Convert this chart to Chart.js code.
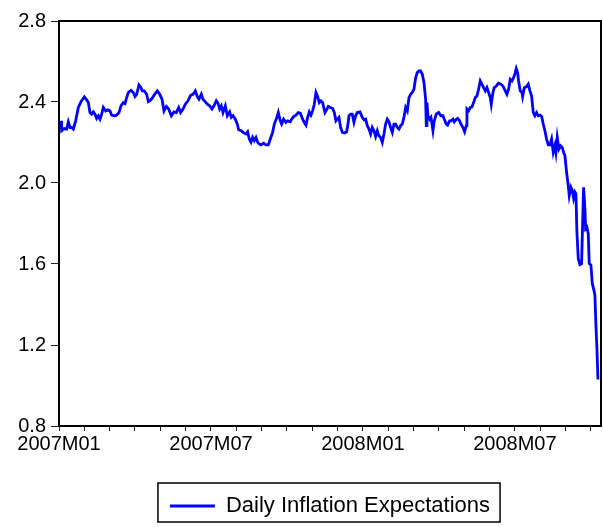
<!DOCTYPE html>
<html><head><meta charset="utf-8">
<script src="https://cdn.jsdelivr.net/npm/chart.js@4.4.0/dist/chart.umd.min.js"></script>
<style>html,body{margin:0;padding:0;background:#fff;}canvas{display:block;}</style>
</head><body>
<canvas id="c" width="603" height="527"></canvas>
<script>
// x position of each observation, in months since 2007M01
const obsMonth = [
0.079,0.105,0.210,0.303,0.368,0.434,0.500,0.566,0.658,0.763,0.868,1.000,1.092,1.158,1.224,1.289,1.355,1.421,1.487,1.553,1.618,1.684,1.750,1.842,1.921,2.013,2.079,2.184,2.276,2.368,2.447,2.539,2.605,2.671,2.737,2.842,2.934,3.000,3.066,3.158,3.237,3.289,3.368,3.461,3.526,
3.580,3.672,3.777,3.882,3.975,4.067,4.146,4.238,4.330,4.435,4.540,4.632,4.725,4.803,4.896,4.988,5.093,5.198,5.290,5.382,5.461,5.527,5.619,5.685,5.777,5.856,5.948,6.040,6.119,6.211,6.277,6.343,6.409,6.475,6.567,6.646,6.738,6.803,6.869,6.961,7.040,7.093,7.198,7.264,
7.382,7.448,7.514,7.580,7.645,7.711,7.777,7.843,7.909,7.974,8.080,8.172,8.264,8.343,8.435,8.501,8.606,8.659,8.738,8.790,8.869,8.961,9.027,9.132,9.185,9.264,9.356,9.448,9.527,9.619,9.685,9.751,9.817,9.882,9.948,10.014,10.080,10.146,10.211,10.277,10.343,10.409,10.501,10.580,10.632,10.711,10.804,10.869,10.935,
10.989,11.054,11.120,11.186,11.278,11.357,11.410,11.449,11.515,11.581,11.646,11.712,11.778,11.883,11.975,12.041,12.107,12.173,12.239,12.304,12.370,12.436,12.502,12.568,12.633,12.699,12.765,12.831,12.896,12.962,13.028,13.094,13.160,13.225,13.291,13.357,13.423,13.489,13.554,13.620,13.686,13.752,13.818,13.883,13.949,14.015,14.081,14.146,14.212,14.278,14.344,14.410,14.475,14.502,
14.528,14.567,14.633,14.686,14.765,14.817,14.896,14.989,15.081,15.160,15.212,15.291,15.344,15.423,15.475,15.554,15.607,15.686,15.738,15.817,15.870,15.949,16.015,16.081,16.107,16.173,16.239,16.304,16.370,16.436,16.502,16.567,16.633,16.699,16.765,16.831,16.896,16.962,17.028,17.067,17.133,17.186,17.265,17.357,17.449,17.528,17.620,17.686,17.752,17.817,17.883,17.949,18.015,18.054,18.107,18.147,18.212,18.278,
18.305,18.370,18.463,18.528,18.594,18.660,18.726,18.791,18.857,18.923,18.989,19.055,19.120,19.186,19.252,19.318,19.384,19.449,19.515,19.581,19.620,19.673,19.739,19.805,19.870,19.923,19.976,20.041,20.107,20.147,20.213,20.265,20.318,20.370,20.410,20.449,20.502,20.568,20.634,20.673,20.713,20.765,20.792,20.844,20.897,20.936,21.002,21.055,21.120,21.160,21.199,21.239,21.278,21.331
];
// Daily inflation expectations
const inflation = [
2.307,2.258,2.269,2.266,2.302,2.274,2.274,2.266,2.307,2.373,2.401,2.425,2.411,2.397,2.348,2.340,2.351,2.340,2.319,2.332,2.315,2.340,2.373,2.356,2.361,2.356,2.335,2.332,2.335,2.348,2.381,2.397,2.392,2.422,2.447,2.458,2.447,2.427,2.438,2.484,2.471,2.455,2.455,2.438,2.402,
2.406,2.417,2.438,2.455,2.438,2.414,2.356,2.378,2.365,2.332,2.351,2.348,2.373,2.348,2.365,2.389,2.406,2.433,2.438,2.455,2.427,2.414,2.438,2.414,2.401,2.389,2.381,2.365,2.381,2.406,2.394,2.365,2.381,2.348,2.381,2.332,2.351,2.324,2.332,2.315,2.291,2.263,2.258,2.250,
2.242,2.253,2.217,2.201,2.225,2.209,2.225,2.201,2.192,2.188,2.197,2.188,2.188,2.217,2.250,2.291,2.324,2.348,2.307,2.291,2.315,2.299,2.307,2.302,2.315,2.328,2.335,2.348,2.345,2.315,2.299,2.286,2.324,2.351,2.335,2.356,2.389,2.447,2.427,2.397,2.406,2.397,2.348,2.365,2.378,2.373,2.368,2.348,2.307,
2.315,2.324,2.274,2.250,2.247,2.253,2.291,2.332,2.340,2.340,2.299,2.332,2.348,2.351,2.324,2.312,2.315,2.283,2.266,2.242,2.274,2.258,2.230,2.258,2.233,2.225,2.201,2.242,2.291,2.315,2.302,2.274,2.250,2.291,2.291,2.274,2.266,2.283,2.291,2.324,2.373,2.356,2.422,2.438,2.447,2.463,2.520,2.545,2.553,2.553,2.537,2.496,2.414,2.283,
2.397,2.332,2.315,2.324,2.258,2.307,2.340,2.348,2.332,2.332,2.315,2.291,2.286,2.307,2.307,2.315,2.302,2.315,2.319,2.307,2.291,2.274,2.253,2.283,2.365,2.356,2.373,2.376,2.397,2.422,2.430,2.463,2.504,2.488,2.471,2.455,2.471,2.447,2.422,2.389,2.447,2.471,2.479,2.493,2.488,2.479,2.455,2.438,2.463,2.512,2.504,2.520,2.545,2.565,2.545,2.504,2.455,2.447,
2.427,2.471,2.476,2.488,2.455,2.430,2.348,2.332,2.348,2.332,2.335,2.329,2.291,2.258,2.217,2.188,2.188,2.217,2.151,2.184,2.151,2.225,2.168,2.184,2.176,2.151,2.135,2.053,1.987,1.938,1.979,1.963,1.925,1.955,1.946,1.758,1.627,1.597,1.602,1.791,1.979,1.873,1.774,1.782,1.750,1.602,1.594,1.504,1.471,1.446,1.299,1.184,1.036,1.036
];
const seriesLabel = 'Daily Inflation Expectations';
const monthTicks = [0,1,2,3,4,5,6,7,8,9,10,11,12,13,14,15,16,17,18,19,20,21];
const labelMonths = [0, 6, 12, 18];
const labelTexts = ['2007M01', '2007M07', '2008M01', '2008M07'];
const yTicks = [0.8, 1.2, 1.6, 2.0, 2.4, 2.8];

const FONT = '"Liberation Sans", Arial, Helvetica, sans-serif';

const framePlugin = {
  id: 'frame',
  afterDraw(chart) {
    const ctx = chart.ctx, a = chart.chartArea;
    ctx.save();
    ctx.strokeStyle = '#000';
    ctx.lineWidth = 2;
    ctx.strokeRect(a.left, a.top, a.right - a.left, a.bottom - a.top);
    const lg = chart.legend;
    if (lg && lg.legendHitBoxes && lg.legendHitBoxes.length) {
      const hb = lg.legendHitBoxes[0];
      ctx.lineWidth = 1.5;
      ctx.strokeRect(hb.left - 12, hb.top - 12, hb.width + 22, hb.height + 17);
    }
    ctx.restore();
  }
};

new Chart(document.getElementById('c'), {
  type: 'line',
  data: {
    datasets: [{
      label: seriesLabel,
      data: obsMonth.map((m, i) => ({x: m, y: inflation[i]})),
      borderColor: '#0000ff',
      backgroundColor: '#0000ff',
      borderWidth: 2.8,
      pointRadius: 0,
      tension: 0,
      fill: false
    }]
  },
  options: {
    responsive: false,
    animation: false,
    devicePixelRatio: 1,
    layout: {padding: {left: 0, right: 2, top: 21, bottom: 0}},
    scales: {
      x: {
        type: 'linear', min: 0, max: 21.4,
        afterBuildTicks: s => { s.ticks = monthTicks.map(v => ({value: v})); },
        afterFit: s => { s.height = 59; },
        grid: {drawOnChartArea: false, tickLength: 5, tickColor: '#222', tickWidth: 1},
        border: {color: '#000', width: 2},
        ticks: {
          autoSkip: false, maxRotation: 0, padding: 1, color: '#000',
          font: {family: FONT, size: 20},
          callback: v => { const i = labelMonths.indexOf(v); return i >= 0 ? labelTexts[i] : ''; }
        }
      },
      y: {
        min: 0.8, max: 2.8,
        afterBuildTicks: s => { s.ticks = yTicks.map(v => ({value: v})); },
        afterFit: s => { s.width = 59; },
        grid: {drawOnChartArea: false, tickLength: 8, tickColor: '#222', tickWidth: 1},
        border: {color: '#000', width: 2},
        ticks: {padding: 5, color: '#000', font: {family: FONT, size: 20}, callback: v => v.toFixed(1)}
      }
    },
    plugins: {
      legend: {
        position: 'bottom',
        fullSize: false,
        labels: {
          usePointStyle: true, pointStyle: 'line', pointStyleWidth: 45,
          color: '#000', font: {family: FONT, size: 22}, padding: 10
        }
      },
      tooltip: {enabled: false}
    }
  },
  plugins: [framePlugin]
});
</script>
</body></html>
